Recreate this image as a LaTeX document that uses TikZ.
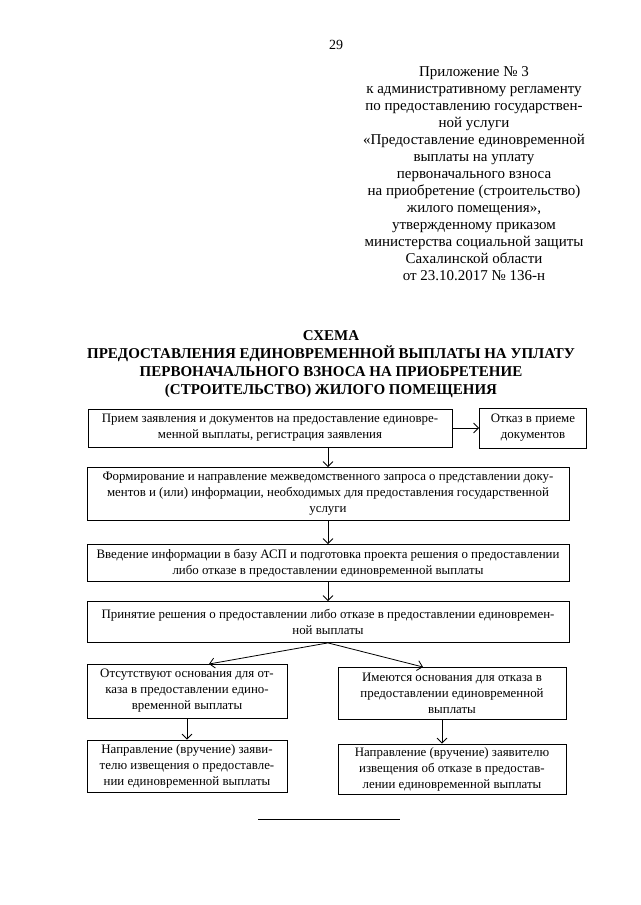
\documentclass[tikz,border=0pt]{standalone}
\usepackage{fontspec}
\setmainfont{Liberation Serif}
\usetikzlibrary{arrows.meta,calc}

\begin{document}
\begin{tikzpicture}[x=1pt,y=-1pt,
  box/.style={draw,line width=0.8pt,align=center,inner sep=2pt,font=\fontsize{12.9}{16}\selectfont},
  head/.style={align=center,font=\fontsize{15}{17}\selectfont},
  title/.style={align=center,font=\fontsize{15}{18}\selectfont\bfseries}]
  \useasboundingbox (0,0) rectangle (640,905);
  \node at (336,45) [font=\fontsize{14}{16}\selectfont] (page) {29};
  \node at (474,174) [head] (appx) {Приложение № 3\\
    к административному регламенту\\
    по предоставлению государствен-\\
    ной услуги\\
    «Предоставление единовременной\\
    выплаты на уплату\\
    первоначального взноса\\
    на приобретение (строительство)\\
    жилого помещения»,\\
    утвержденному приказом\\
    министерства социальной защиты\\
    Сахалинской области\\
    от 23.10.2017 № 136-н};
  \node at (331,364) [title] (scheme) {СХЕМА\\
    ПРЕДОСТАВЛЕНИЯ ЕДИНОВРЕМЕННОЙ ВЫПЛАТЫ НА УПЛАТУ\\
    ПЕРВОНАЧАЛЬНОГО ВЗНОСА НА ПРИОБРЕТЕНИЕ\\
    (СТРОИТЕЛЬСТВО) ЖИЛОГО ПОМЕЩЕНИЯ};
  % boxes
  \node at (270,428) [box,minimum width=364pt,minimum height=38pt] (priem)
    {Прием заявления и документов на предоставление единовре-\\менной выплаты, регистрация заявления};
  \node at (533,428) [box,minimum width=107pt,minimum height=40pt] (otkaz)
    {Отказ в приеме\\документов};
  \node at (328,494) [box,minimum width=482pt,minimum height=53pt] (zapros)
    {Формирование и направление межведомственного запроса о представлении доку-\\
     ментов и (или) информации, необходимых для предоставления государственной\\
     услуги};
  \node at (328,563) [box,minimum width=482pt,minimum height=37pt] (vvedenie)
    {Введение информации в базу АСП и подготовка проекта решения о предоставлении\\
     либо отказе в предоставлении единовременной выплаты};
  \node at (328,622) [box,minimum width=482pt,minimum height=41pt] (reshenie)
    {Принятие решения о предоставлении либо отказе в предоставлении единовремен-\\
     ной выплаты};
  \node at (187,691) [box,minimum width=200pt,minimum height=54pt] (net)
    {Отсутствуют основания для от-\\каза в предоставлении едино-\\временной выплаты};
  \node at (452,693) [box,minimum width=228pt,minimum height=52pt] (est)
    {Имеются основания для отказа в\\предоставлении единовременной\\выплаты};
  \node at (187,766) [box,minimum width=200pt,minimum height=52pt] (naprda)
    {Направление (вручение) заяви-\\телю извещения о предоставле-\\нии единовременной выплаты};
  \node at (452,769) [box,minimum width=228pt,minimum height=50pt] (naprnet)
    {Направление (вручение) заявителю\\извещения об отказе в предостав-\\лении единовременной выплаты};
  \coordinate (netin) at (209,664);
  \coordinate (estin) at (423,667);
  % arrows
  \path[-{Straight Barb[length=5pt,width=10pt]},line width=0.8pt]
    (priem.east) edge (otkaz.west)
    (zapros.north |- priem.south) edge (zapros.north)
    (zapros) edge (vvedenie)
    (vvedenie) edge (reshenie)
    (reshenie.south) edge (netin)
    (reshenie.south) edge (estin)
    (net) edge (naprda)
    ([xshift=-10pt]est.south) edge ([xshift=-10pt]naprnet.north);
  \draw[line width=0.8pt] (258,819) -- (400,819);
\end{tikzpicture}
\end{document}
